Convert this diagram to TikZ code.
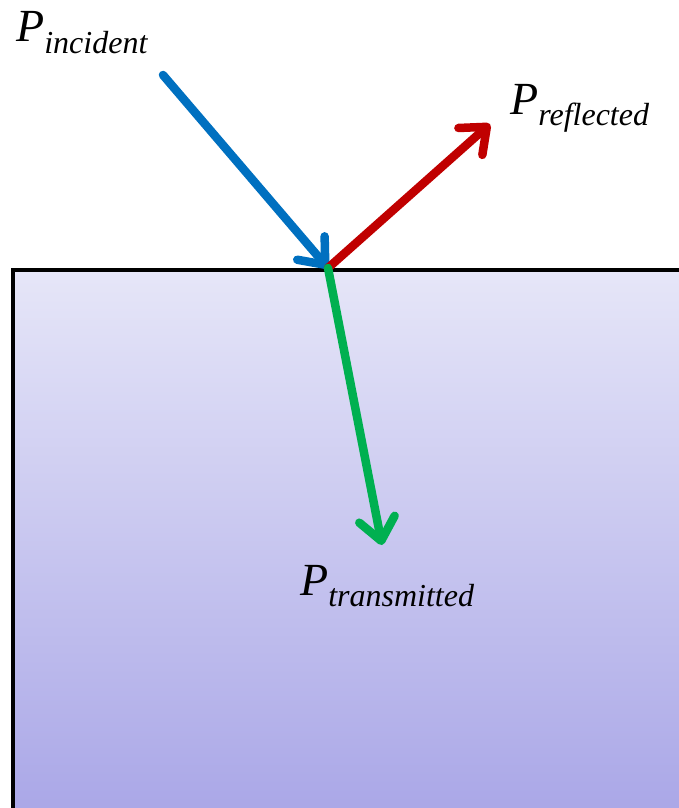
\documentclass[tikz,border=0pt]{standalone}
\usepackage{fontspec}
\setmainfont{Liberation Serif}
\usetikzlibrary{arrows.meta}
\definecolor{pblue}{HTML}{0070C0}
\definecolor{pred}{HTML}{C00000}
\definecolor{pgreen}{HTML}{00B050}
\definecolor{topc}{HTML}{E6E6F8}
\definecolor{botc}{HTML}{AAA7E7}
\tikzset{
  ray/.style={line width=8.5pt,line cap=round,-{Straight Barb[length=22pt,width=36pt,round]}},
  lbl/.style={anchor=base west,inner sep=0pt,font=\itshape},
}
\newcommand{\plabel}[1]{\fontsize{46}{46}\selectfont P\raisebox{-11pt}{\fontsize{32}{32}\selectfont #1}}
\begin{document}
\begin{tikzpicture}[x=1pt,y=-1pt]
\useasboundingbox (0,0) rectangle (679,808);
\shade[top color=topc,bottom color=botc] (13,270) rectangle (690,812);
\draw[line width=4pt] (13,812) -- (13,270) -- (690,270);
\coordinate (src) at (163,75);
\coordinate (hit) at (328,268);
\coordinate (refl) at (490,124);
\coordinate (trans) at (382,545);
\draw[ray,pblue] (src) -- (hit);
\draw[ray,pred] (hit) -- (refl);
\draw[ray,pgreen] (hit) -- (trans);
\node[lbl] (linc) at (16,42) {\plabel{incident}};
\node[lbl] (lref) at (510,114) {\plabel{reflected}};
\node[lbl] (ltra) at (300,595) {\plabel{transmitted}};
\end{tikzpicture}
\end{document}
